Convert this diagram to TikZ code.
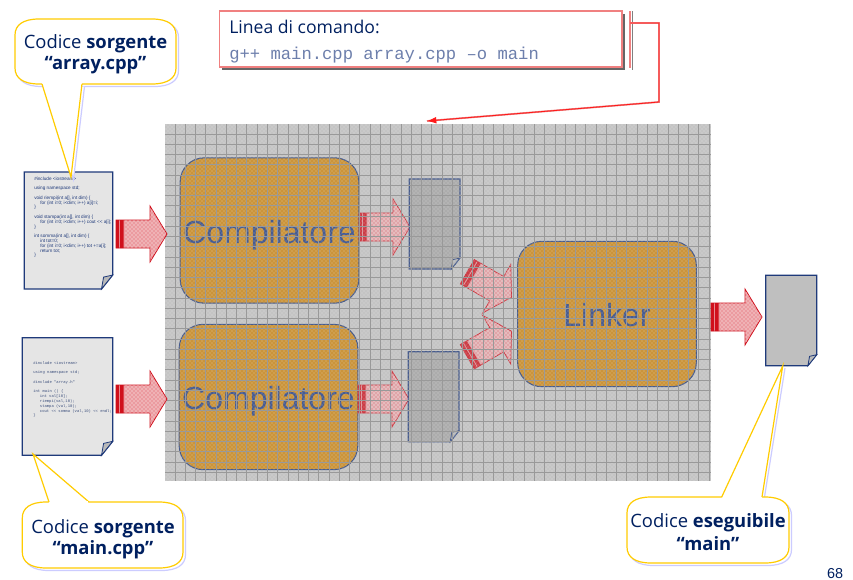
\documentclass[tikz,border=0pt]{standalone}
\usepackage{fontspec}
\setmainfont{Open Sans}
\newfontfamily\arialfont{Liberation Sans}
\newfontfamily\monofont{Liberation Mono}
\usetikzlibrary{patterns,arrows.meta,calc}
\definecolor{navy}{HTML}{002060}
\definecolor{calloutyellow}{HTML}{FFCC00}
\definecolor{calloutshadow}{HTML}{CCCCFF}
\definecolor{docline}{HTML}{1F3A7A}
\definecolor{arrowred}{HTML}{D0101C}
\definecolor{orangebox}{HTML}{CF860F}
\definecolor{compblue}{HTML}{1F3A80}
\definecolor{lightred}{HTML}{F08080}
\definecolor{veil}{HTML}{C0C0C0}
\newcommand{\boxlabel}[1]{\raisebox{-9.6pt}[0pt][0pt]{#1}}
\tikzset{
  x=0.75pt,y=-0.75pt,
  boxstyle/.style={draw=docline,line width=0.8pt,fill=orangebox,rounded corners=18pt,minimum width=134pt,minimum height=109pt,inner sep=0pt,
     text=compblue,font=\arialfont\fontsize{24}{28}\selectfont},
  docstyle/.style={draw=docline,line width=0.9pt,line join=miter},
  calloutline/.style={line width=0.9pt,draw=calloutyellow,fill=white},
  calloutshade/.style={line width=0.9pt,draw=calloutshadow,fill=calloutshadow!0},
  callouttext/.style={text=navy,align=center,font=\fontsize{13.8}{16}\selectfont,inner sep=0pt},
  tinysans/.style={text=docline,align=left,inner sep=0pt,anchor=north west,font=\arialfont\fontsize{3.5}{3.6}\selectfont},
  tinymono/.style={text=docline!70!gray,align=left,inner sep=0pt,anchor=north west,font=\monofont\fontsize{2.9}{3.6}\selectfont},
}
\newcommand{\blockarrow}[2]{%
  \begin{scope}[shift={(#1)},rotate=#2]
    \draw[arrowred,line width=0.6pt,fill=arrowred!42] (9,-14) -- (34,-14) -- (34,-28) -- (51,0) -- (34,28) -- (34,14) -- (0,14) -- (0,-14) -- cycle;
    \fill[pattern=crosshatch dots,pattern color=white] (9,-14) -- (34,-14) -- (34,-28) -- (51,0) -- (34,28) -- (34,14) -- (9,14) -- cycle;
    \fill[arrowred] (0,-14) rectangle (3,14) (4,-14) rectangle (7.5,14);
  \end{scope}}
\newcommand{\docshape}[6]{%
  \draw[docstyle,fill=#6] (#1,#2) -- (#3,#2) -- (#3,#4-#5) -- (#3-#5*0.8,#4) -- (#1,#4) -- cycle;
  \draw[docstyle,fill=gray!55,line width=0.6pt] (#3,#4-#5) -- (#3-#5*0.65,#4-#5*0.85) -- (#3-#5*0.8,#4) -- cycle;}
\newcommand{\calloutbox}[4]{%
  (#1+24,#2) -- (#3-24,#2) .. controls (#3-8,#2) and (#3,#2+6) .. (#3,#2+16) -- (#3,#4-16) .. controls (#3,#4-6) and (#3-8,#4) .. (#3-24,#4) -- (#1+24,#4) .. controls (#1+8,#4) and (#1,#4-6) .. (#1,#4-16) -- (#1,#2+16) .. controls (#1,#2+6) and (#1+8,#2) .. (#1+24,#2) -- cycle}
\begin{document}
\begin{tikzpicture}
\useasboundingbox (0,0) rectangle (853,579);
\fill[white] (0,0) rectangle (853,579);
% panel
\fill[gray!45] (165,124) rectangle (711,481);
% boxes
\node[boxstyle] (comp1) at (269.5,230.5) {\boxlabel{Compilatore}};
\node[boxstyle] (comp2) at (268.5,397) {\boxlabel{Compilatore}};
\node[boxstyle] (linker) at (607,314) {\boxlabel{Linker}};
% inner arrows and docs
\coordinate (a3) at (359,227);
\coordinate (a4) at (358,399);
\coordinate (a5) at (467.3,271.7);
\coordinate (a6) at (467.3,356.7);
\blockarrow{a3}{0}
\blockarrow{a4}{0}
\blockarrow{a5}{-30}
\blockarrow{a6}{30}
\docshape{409.3}{179}{460}{269}{11}{gray!70}
\docshape{408.3}{351.7}{459}{441.7}{11}{gray!70}
% overlay
\fill[veil,opacity=0.25] (165,124) rectangle (711,481);
\fill[pattern=crosshatch dots,pattern color=white,opacity=0.4] (165,124) rectangle (711,481);
\begin{scope}
  \clip (165,124) rectangle (711,481);
  \foreach \k in {0,...,53} \draw[gray!80,line width=0.6pt] ({164.7+10.27*\k},124) -- ({164.7+10.27*\k},481);
  \foreach \k in {0,...,35} \draw[gray!80,line width=0.6pt] (165,{123.8+10.25*\k}) -- (711,{123.8+10.25*\k});
\end{scope}
% outer docs
\docshape{24.3}{172}{112.7}{289}{14}{gray!20}
\docshape{22.3}{337.7}{112.7}{455.3}{14}{gray!20}
\docshape{765.7}{275.3}{816.7}{365.7}{11}{gray!50}
\node[tinysans] (codeA) at (34,176.5) {\#include <iostream>\\[3.6pt]using namespace std;\\[3.6pt]void riempi(int a[], int dim) \{\\\hspace*{4.5pt}for (int i=0; i<dim; i++) a[i]=i;\\\}\\[3.6pt]void stampa(int a[], int dim) \{\\\hspace*{4.5pt}for (int i=0; i<dim; i++) cout << a[i];\\\}\\[3.6pt]int somma(int a[], int dim) \{\\\hspace*{4.5pt}int tot=0;\\\hspace*{4.5pt}for (int i=0; i<dim; i++) tot +=a[i];\\\hspace*{4.5pt}return tot;\\\}};
\node[tinymono] (codeB) at (33,361) {\#include <iostream>\\[3.6pt]using namespace std;\\[3.6pt]\#include "array.h"\\[3.6pt]int main () \{\\\hspace*{5pt}int val[10];\\\hspace*{5pt}riempi(val,10);\\\hspace*{5pt}stampa (val,10);\\\hspace*{5pt}cout << somma (val,10) << endl;\\\}};
% outer arrows
\coordinate (a1) at (116,234);
\coordinate (a2) at (116,399);
\coordinate (a7) at (711,317);
\blockarrow{a1}{0}
\blockarrow{a2}{0}
\blockarrow{a7}{0}
% callouts
\draw[calloutshade] [shift={(2.5,2.5)}] \calloutbox{15}{19}{176}{84};
\draw[calloutshade] [shift={(2.5,2.5)}] (42,84) -- (71,177) -- (82,84);
\draw[calloutline] \calloutbox{15}{19}{176}{84};
\fill[white] (42,83) -- (71,177) -- (82,83) -- cycle;
\draw[calloutline,fill=none] (42,84) -- (71,177) -- (82,84);
\draw[white,line width=1.6pt] (43,84) -- (81,84);
\draw[calloutshade] [shift={(2.5,2.5)}] \calloutbox{22.3}{502}{183}{568};
\draw[calloutline] \calloutbox{22.3}{502}{183}{568};
\fill[white] (49,503) -- (33,454) -- (89,503) -- cycle;
\draw[calloutline,fill=none] (49,502) -- (33,454) -- (89,502);
\draw[white,line width=1.6pt] (50,502) -- (88,502);
\draw[calloutshade] [shift={(2.5,2.5)}] \calloutbox{627}{497}{789}{563};
\draw[calloutshade] (764.5,497) -- (785,368);
\draw[calloutline] \calloutbox{627}{497}{789}{563};
\fill[white] (721.7,498) -- (782.7,366) -- (762,498) -- cycle;
\draw[calloutline,fill=none] (721.7,497) -- (782.7,366) -- (762,497);
\draw[white,line width=1.6pt] (722.7,497) -- (761,497);
\node[callouttext] (t1) at (95.5,54) {Codice \textbf{sorgente}\\\textbf{“array.cpp”}};
\node[callouttext] (t2) at (103,539) {Codice \textbf{sorgente}\\\textbf{“main.cpp”}};
\node[callouttext] (t3) at (708,532) {Codice \textbf{eseguibile}\\[1.5pt]\textbf{“main”}};
% command box
\fill[gray!80!black] (222,14) rectangle (625,70);
\node[draw=lightred,line width=1pt,fill=white,minimum width=302pt,minimum height=42pt,inner sep=0pt] (cmd) at (420.5,39) {};
\node[anchor=base west,text=navy,inner sep=0pt,font=\fontsize{13.2}{14}\selectfont] (cmd1) at (229,33) {Linea di comando:};
\node[anchor=base west,text=compblue!65,inner sep=0pt,font=\monofont\fontsize{12.9}{14}\selectfont] (cmd2) at (229,59) {g++ main.cpp array.cpp –o main};
% connector
\coordinate (b0) at (630,11);
\coordinate (b1) at (630,68);
\coordinate (c0) at (630,23);
\coordinate (c1) at (659,23);
\coordinate (c2) at (659,102);
\coordinate (c3) at (427,121);
\draw[gray,line width=0.7pt,shift={(2,2)}] (c0) -- (c1) -- (c2) -- (c3);
\draw[gray,line width=0.7pt] (632,11) -- (632,70);
\draw[lightred,line width=0.9pt] (b0) -- (b1);
\draw[lightred,line width=1.3pt] (c0) -- (c1) -- (c2) -- (c3);
\draw[red!90,line width=0.6pt,-{Latex[length=7pt,width=5pt]}] (c0) -- (c1) -- (c2) -- (c3);
\node[anchor=base east,text=navy,inner sep=0pt,font=\arialfont\fontsize{10.8}{12}\selectfont] (page) at (843.5,578) {68};
\end{tikzpicture}
\end{document}
